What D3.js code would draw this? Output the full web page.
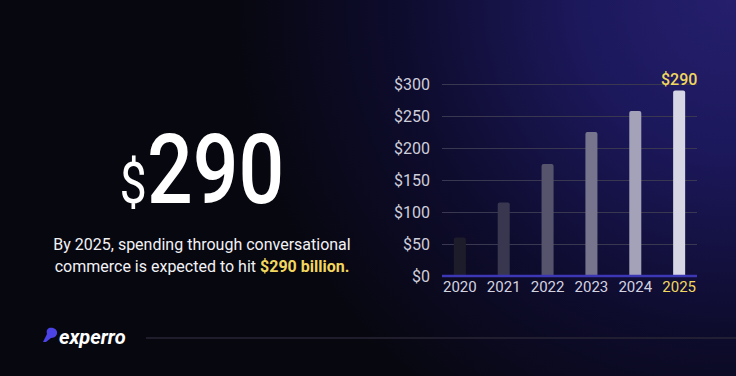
<!DOCTYPE html>
<html>
<head>
<meta charset="utf-8">
<script src="https://cdn.jsdelivr.net/npm/d3@7"></script>
<style>
  html, body { margin: 0; padding: 0; background: #07070f; }
  svg { display: block; font-family: Roboto, "Liberation Sans", sans-serif; }
</style>
</head>
<body>
<svg id="chart" width="736" height="376"></svg>
<script>
// data
const years = ['2020', '2021', '2022', '2023', '2024', '2025'];
const spend = [60, 115, 175, 225, 258, 290];
const barColors = ['#1d1c2b', '#39374f', '#56546c', '#77758d', '#a4a2b8', '#d7d6e4'];
const yTicks = [0, 50, 100, 150, 200, 250, 300];

const svg = d3.select('#chart');
const width = +svg.attr('width');
const height = +svg.attr('height');

// background glow
const defs = svg.append('defs');
const glow = defs.append('radialGradient')
  .attr('id', 'glow')
  .attr('gradientUnits', 'userSpaceOnUse')
  .attr('cx', 730).attr('cy', 0).attr('r', 500);
glow.append('stop').attr('offset', '0%').attr('stop-color', '#251f6c');
glow.append('stop').attr('offset', '30%').attr('stop-color', '#1c185c');
glow.append('stop').attr('offset', '65%').attr('stop-color', '#0e0c2e');
glow.append('stop').attr('offset', '100%').attr('stop-color', '#07070f');

svg.append('rect').attr('width', width).attr('height', height).attr('fill', '#07070f');
svg.append('rect').attr('width', width).attr('height', height).attr('fill', 'url(#glow)');

// chart area
const margin = { top: 84, right: 39, bottom: 100, left: 442 };
const innerWidth = width - margin.left - margin.right;
const innerHeight = height - margin.top - margin.bottom;

const x = d3.scaleBand()
  .domain(years)
  .range([0, innerWidth])
  .paddingInner(0.726)
  .paddingOuter(0.27);

const y = d3.scaleLinear()
  .domain([0, 300])
  .range([innerHeight, 0]);

const g = svg.append('g')
  .attr('transform', `translate(${margin.left},${margin.top})`);

// gridlines + y labels
const yAxis = d3.axisLeft(y)
  .tickValues(yTicks)
  .tickSize(-innerWidth)
  .tickPadding(12)
  .tickFormat(d => '$' + d);

g.append('g')
  .call(yAxis)
  .call(s => s.select('.domain').remove())
  .call(s => s.selectAll('.tick line').attr('stroke', '#3a3850').attr('stroke-width', 1))
  .call(s => s.selectAll('.tick text')
    .attr('fill', '#cfcedb')
    .attr('font-size', 16)
    .attr('font-family', 'Roboto, sans-serif'));

// bars with rounded tops
const r = 2;
g.selectAll('.bar')
  .data(spend)
  .join('path')
  .attr('class', 'bar')
  .attr('fill', (d, i) => barColors[i])
  .attr('d', (d, i) => {
    const x0 = x(years[i]);
    const w = x.bandwidth();
    const y0 = y(d);
    const yb = y(0);
    return `M${x0},${yb}V${y0 + r}Q${x0},${y0} ${x0 + r},${y0}H${x0 + w - r}Q${x0 + w},${y0} ${x0 + w},${y0 + r}V${yb}Z`;
  });

// baseline
g.append('line')
  .attr('x1', 0).attr('x2', innerWidth)
  .attr('y1', y(0)).attr('y2', y(0))
  .attr('stroke', '#3c37b4')
  .attr('stroke-width', 2.5);

// x labels
const xAxis = d3.axisBottom(x).tickSize(0).tickPadding(5);
g.append('g')
  .attr('transform', `translate(0,${innerHeight})`)
  .call(xAxis)
  .call(s => s.select('.domain').remove())
  .call(s => s.selectAll('.tick text')
    .attr('fill', d => d === '2025' ? '#f2d75e' : '#d4d3e0')
    .attr('font-size', 15)
    .attr('font-family', 'Roboto, sans-serif'));

// value label on last bar
const last = years.length - 1;
g.append('text')
  .attr('x', x(years[last]) + x.bandwidth() / 2)
  .attr('y', y(spend[last]) - 5)
  .attr('text-anchor', 'middle')
  .attr('fill', '#f2d75e')
  .attr('font-size', 16)
  .attr('font-weight', 500)
  .text('$' + spend[last]);

// big number on the left
const big = svg.append('text')
  .attr('x', 202)
  .attr('y', 203)
  .attr('text-anchor', 'middle')
  .attr('fill', '#ffffff')
  .attr('transform', 'translate(202,0) scale(0.84,1) translate(-202,0)');
big.append('tspan').attr('font-size', 58).attr('font-weight', 400).text('$');
big.append('tspan').attr('font-size', 96).attr('font-weight', 500).text(spend[last]);

// description
const desc = svg.append('g').attr('font-size', 16).attr('fill', '#f2f2f6');
desc.append('text')
  .attr('x', 202).attr('y', 250)
  .attr('text-anchor', 'middle')
  .text('By 2025, spending through conversational');
const l2 = desc.append('text')
  .attr('x', 202).attr('y', 272)
  .attr('text-anchor', 'middle');
l2.append('tspan').text('commerce is expected to hit ');
l2.append('tspan').attr('fill', '#f2d75e').attr('font-weight', 700).text('$290 billion.');

// logo
const logo = svg.append('g').attr('transform', 'translate(43,328)');
logo.append('path')
  .attr('d', 'M6,0 C11,-1 15,2 14,6 C13,9 10,10 8,10 L3,14 L0,14 L4,6 C3,3 4,1 6,0 Z')
  .attr('fill', '#4b43e6');
logo.append('text')
  .attr('x', 16).attr('y', 16)
  .attr('fill', '#ffffff')
  .attr('font-size', 20)
  .attr('font-weight', 700)
  .attr('font-style', 'italic')
  .text('experro');

svg.append('line')
  .attr('x1', 146).attr('x2', width)
  .attr('y1', 338).attr('y2', 338)
  .attr('stroke', '#282636')
  .attr('stroke-width', 1.5);
</script>
</body>
</html>
